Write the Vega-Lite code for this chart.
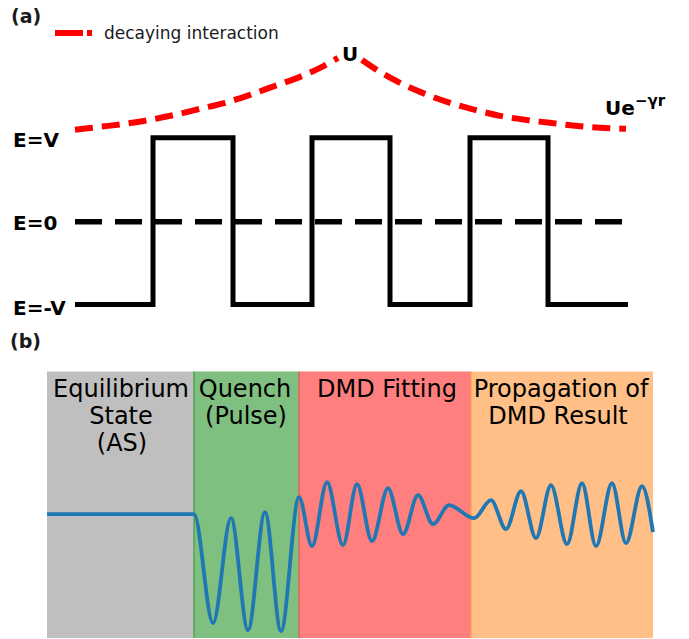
{
  "$schema": "https://vega.github.io/schema/vega-lite/v6.json",
  "width": 689,
  "height": 639,
  "autosize": {"type": "fit", "contains": "padding"},
  "padding": 0,
  "background": "white",
  "config": {"view": {"stroke": null}, "text": {"font": "DejaVu Sans"}},
  "datasets": {
    "sections": [
      {"name": "eq", "x": 47, "x2": 194, "y": 372, "y2": 639},
      {"name": "quench", "x": 194, "x2": 299, "y": 372, "y2": 639},
      {"name": "dmd", "x": 299, "x2": 471, "y": 372, "y2": 639},
      {"name": "prop", "x": 471, "x2": 653, "y": 372, "y2": 639}
    ],
    "wave": [
      {"x": 47, "y": 515}, {"x": 194, "y": 515}, {"x": 213, "y": 624}, {"x": 231, "y": 519},
      {"x": 248, "y": 631}, {"x": 265, "y": 513}, {"x": 281, "y": 632}, {"x": 299, "y": 498},
      {"x": 312, "y": 547}, {"x": 327, "y": 483}, {"x": 343, "y": 546}, {"x": 357, "y": 485},
      {"x": 372, "y": 542}, {"x": 388, "y": 489}, {"x": 403, "y": 535}, {"x": 418, "y": 496},
      {"x": 433, "y": 525}, {"x": 449, "y": 506}, {"x": 474, "y": 519}, {"x": 491, "y": 501},
      {"x": 506, "y": 530}, {"x": 521, "y": 492}, {"x": 536, "y": 539}, {"x": 551, "y": 486},
      {"x": 567, "y": 545}, {"x": 582, "y": 484}, {"x": 596, "y": 547}, {"x": 612, "y": 484},
      {"x": 626, "y": 544}, {"x": 642, "y": 487}, {"x": 653, "y": 533}
    ],
    "square": [
      {"i": 0, "x": 75, "y": 305}, {"i": 1, "x": 153, "y": 305}, {"i": 2, "x": 153, "y": 138},
      {"i": 3, "x": 233, "y": 138}, {"i": 4, "x": 233, "y": 305}, {"i": 5, "x": 312, "y": 305},
      {"i": 6, "x": 312, "y": 138}, {"i": 7, "x": 390, "y": 138}, {"i": 8, "x": 390, "y": 305},
      {"i": 9, "x": 470, "y": 305}, {"i": 10, "x": 470, "y": 138}, {"i": 11, "x": 548, "y": 138},
      {"i": 12, "x": 548, "y": 305}, {"i": 13, "x": 628, "y": 305}
    ],
    "curve": [
      {"b": "L", "x": 75, "y": 130}, {"b": "L", "x": 100, "y": 127}, {"b": "L", "x": 125, "y": 124},
      {"b": "L", "x": 150, "y": 120}, {"b": "L", "x": 175, "y": 115}, {"b": "L", "x": 200, "y": 109},
      {"b": "L", "x": 225, "y": 103}, {"b": "L", "x": 250, "y": 95}, {"b": "L", "x": 275, "y": 86},
      {"b": "L", "x": 300, "y": 77}, {"b": "L", "x": 320, "y": 68}, {"b": "L", "x": 338, "y": 58},
      {"b": "R", "x": 362, "y": 60}, {"b": "R", "x": 380, "y": 72}, {"b": "R", "x": 400, "y": 83},
      {"b": "R", "x": 425, "y": 94}, {"b": "R", "x": 450, "y": 103}, {"b": "R", "x": 475, "y": 110},
      {"b": "R", "x": 500, "y": 116}, {"b": "R", "x": 525, "y": 120}, {"b": "R", "x": 550, "y": 123},
      {"b": "R", "x": 575, "y": 126}, {"b": "R", "x": 600, "y": 128}, {"b": "R", "x": 626, "y": 129}
    ]
  },
  "encoding": {
    "x": {"field": "x", "type": "quantitative", "axis": null, "scale": {"domain": [0, 689], "nice": false, "zero": false}},
    "y": {"field": "y", "type": "quantitative", "axis": null, "scale": {"domain": [0, 639], "nice": false, "zero": false, "reverse": true}}
  },
  "layer": [
    {
      "data": {"name": "sections"},
      "mark": {"type": "rect"},
      "encoding": {
        "x2": {"field": "x2"},
        "y2": {"field": "y2"},
        "color": {"field": "name", "type": "nominal", "legend": null,
          "scale": {"domain": ["eq", "quench", "dmd", "prop"], "range": ["#bfbfbf", "#7fbf7f", "#ff7f7f", "#ffbf86"]}}
      }
    },
    {
      "data": {"values": [{"x": 194, "y": 372, "y2": 639}]},
      "mark": {"type": "rule", "color": "#3f9f3f", "strokeWidth": 1.2},
      "encoding": {"y2": {"field": "y2"}}
    },
    {
      "data": {"values": [{"x": 299, "y": 372, "y2": 639}]},
      "mark": {"type": "rule", "color": "#e05a4f", "strokeWidth": 1.2},
      "encoding": {"y2": {"field": "y2"}}
    },
    {
      "data": {"values": [{"x": 471, "y": 372, "y2": 639}]},
      "mark": {"type": "rule", "color": "#ff9f46", "strokeWidth": 1.2},
      "encoding": {"y2": {"field": "y2"}}
    },
    {
      "data": {"name": "wave"},
      "mark": {"type": "line", "interpolate": "monotone", "color": "#1f77b4", "strokeWidth": 3.8},
      "encoding": {}
    },
    {
      "data": {"name": "square"},
      "mark": {"type": "line", "color": "black", "strokeWidth": 5},
      "encoding": {"order": {"field": "i", "type": "quantitative"}}
    },
    {
      "data": {"values": [{"x": 75, "y": 222}, {"x": 626, "y": 222}]},
      "mark": {"type": "line", "color": "black", "strokeWidth": 5.5, "strokeDash": [27, 13]},
      "encoding": {}
    },
    {
      "data": {"name": "curve"},
      "mark": {"type": "line", "interpolate": "monotone", "color": "#ff0000", "strokeWidth": 6, "strokeDash": [18, 9]},
      "encoding": {"detail": {"field": "b", "type": "nominal"}}
    },
    {
      "data": {"values": [{"x": 55, "y": 33}, {"x": 92, "y": 33}]},
      "mark": {"type": "line", "color": "#ff0000", "strokeWidth": 6, "strokeDash": [28, 4]},
      "encoding": {}
    },
    {
      "data": {"values": [{"x": 104, "y": 39, "t": "decaying interaction"}]},
      "mark": {"type": "text", "align": "left", "baseline": "alphabetic", "fontSize": 17, "color": "#1a1a1a"},
      "encoding": {"text": {"field": "t"}}
    },
    {
      "data": {"values": [{"x": 11, "y": 23, "t": "(a)"}, {"x": 10, "y": 349, "t": "(b)"}]},
      "mark": {"type": "text", "align": "left", "baseline": "alphabetic", "fontSize": 19, "fontWeight": "bold", "color": "#1a1a1a"},
      "encoding": {"text": {"field": "t"}}
    },
    {
      "data": {"values": [
        {"x": 13, "y": 147, "t": "E=V"},
        {"x": 13, "y": 230, "t": "E=0"},
        {"x": 13, "y": 315, "t": "E=-V"},
        {"x": 605, "y": 115, "t": "Ue"}
      ]},
      "mark": {"type": "text", "align": "left", "baseline": "alphabetic", "fontSize": 20, "fontWeight": "bold", "color": "black"},
      "encoding": {"text": {"field": "t"}}
    },
    {
      "data": {"values": [{"x": 350, "y": 61, "t": "U"}]},
      "mark": {"type": "text", "align": "center", "baseline": "alphabetic", "fontSize": 20, "fontWeight": "bold", "color": "black"},
      "encoding": {"text": {"field": "t"}}
    },
    {
      "data": {"values": [{"x": 635, "y": 106, "t": "−γr"}]},
      "mark": {"type": "text", "align": "left", "baseline": "alphabetic", "fontSize": 15, "fontWeight": "bold", "color": "black"},
      "encoding": {"text": {"field": "t"}}
    },
    {
      "data": {"values": [
        {"x": 121, "y": 398, "t": "Equilibrium"},
        {"x": 121, "y": 425, "t": "State"},
        {"x": 122, "y": 452, "t": "(AS)"},
        {"x": 245, "y": 398, "t": "Quench"},
        {"x": 246, "y": 425, "t": "(Pulse)"},
        {"x": 387, "y": 398, "t": "DMD Fitting"},
        {"x": 561, "y": 398, "t": "Propagation of"},
        {"x": 558, "y": 425, "t": "DMD Result"}
      ]},
      "mark": {"type": "text", "align": "center", "baseline": "alphabetic", "fontSize": 24, "color": "black"},
      "encoding": {"text": {"field": "t"}}
    }
  ]
}
